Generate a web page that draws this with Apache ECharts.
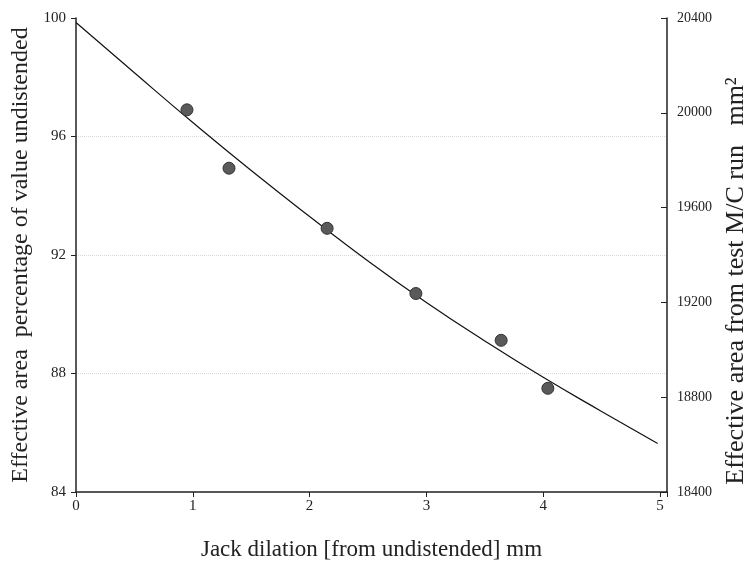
<!DOCTYPE html>
<html>
<head>
<meta charset="utf-8">
<title>Effective area vs jack dilation</title>
<script src="https://cdn.jsdelivr.net/npm/echarts@6/dist/echarts.min.js"></script>
<style>
  html, body { margin: 0; padding: 0; background: #fff; }
  #chart { width: 752px; height: 564px; }
</style>
</head>
<body>
<div id="chart"></div>
<script>
// measured points (jack dilation mm, effective area %)
var dilation = [0.95, 1.31, 2.15, 2.91, 3.64, 4.04]
var areaPct = [96.9, 94.93, 92.9, 90.7, 89.12, 87.5]

// fitted curve
var curveX = [0, 0.5, 1, 1.5, 2, 2.5, 3, 3.5, 4, 4.5, 4.98]
var curveY = [99.85, 98.15, 96.47, 94.85, 93.3, 91.8, 90.4, 89.1, 87.87, 86.72, 85.64]

var serif = 'Liberation Serif, DejaVu Serif, serif'

var chart = echarts.init(document.getElementById('chart'))

var scatterData = dilation.map(function(x, i) { return [x, areaPct[i]] })
var curveData = curveX.map(function(x, i) { return [x, curveY[i]] })

var option = {
  backgroundColor: '#fff',
  animation: false,
  grid: { left: 76, right: 85, top: 18, bottom: 72, outerBoundsMode: 'none' },
  xAxis: {
    type: 'value',
    min: 0,
    max: 5.06,
    interval: 1,
    name: 'Jack dilation [from undistended] mm',
    nameLocation: 'middle',
    nameGap: 46,
    nameTextStyle: { fontFamily: serif, fontSize: 23, color: '#222' },
    axisLine: { lineStyle: { color: '#222', width: 1.5 } },
    axisTick: { lineStyle: { color: '#222' }, length: 5 },
    axisLabel: {
      fontFamily: serif, fontSize: 15, color: '#222', margin: 7,
      formatter: function(v) { return v % 1 === 0 ? String(v) : '' }
    },
    splitLine: { show: false }
  },
  yAxis: [
    {
      type: 'value',
      min: 84,
      max: 100,
      interval: 4,
      name: 'Effective area  percentage of value undistended',
      nameLocation: 'middle',
      nameGap: 40,
      nameTextStyle: { fontFamily: serif, fontSize: 24, color: '#222' },
      axisLine: { show: true, lineStyle: { color: '#222', width: 1.5 } },
      axisTick: { show: true, lineStyle: { color: '#222' }, length: 5 },
      axisLabel: { fontFamily: serif, fontSize: 15, color: '#222', margin: 10 },
      splitLine: {
        show: true,
        showMinLine: false,
        showMaxLine: false,
        lineStyle: { color: '#d8d8d8', type: 'dotted', width: 1 }
      }
    },
    {
      type: 'value',
      min: 18400,
      max: 20400,
      interval: 400,
      position: 'right',
      // trailing spaces push the title down a little, as in the original
      name: 'Effective area from test M/C run   mm²        ',
      nameLocation: 'middle',
      nameGap: 54,
      nameTextStyle: { fontFamily: serif, fontSize: 26, color: '#222' },
      axisLine: { show: true, lineStyle: { color: '#222', width: 1.5 } },
      axisTick: { show: true, inside: true, lineStyle: { color: '#222' }, length: 6 },
      axisLabel: {
        fontFamily: serif, fontSize: 14, color: '#222', margin: 10,
        formatter: function(v) { return String(v) }
      },
      splitLine: { show: false }
    }
  ],
  series: [
    {
      name: 'curve',
      type: 'line',
      smooth: true,
      showSymbol: false,
      data: curveData,
      lineStyle: { color: '#111', width: 1.2 },
      z: 2
    },
    {
      name: 'measured',
      type: 'scatter',
      symbolSize: 12,
      data: scatterData,
      itemStyle: { color: '#5a5a5a', borderColor: '#333', borderWidth: 1, opacity: 1 },
      z: 3
    }
  ]
}

chart.setOption(option)
</script>
</body>
</html>
